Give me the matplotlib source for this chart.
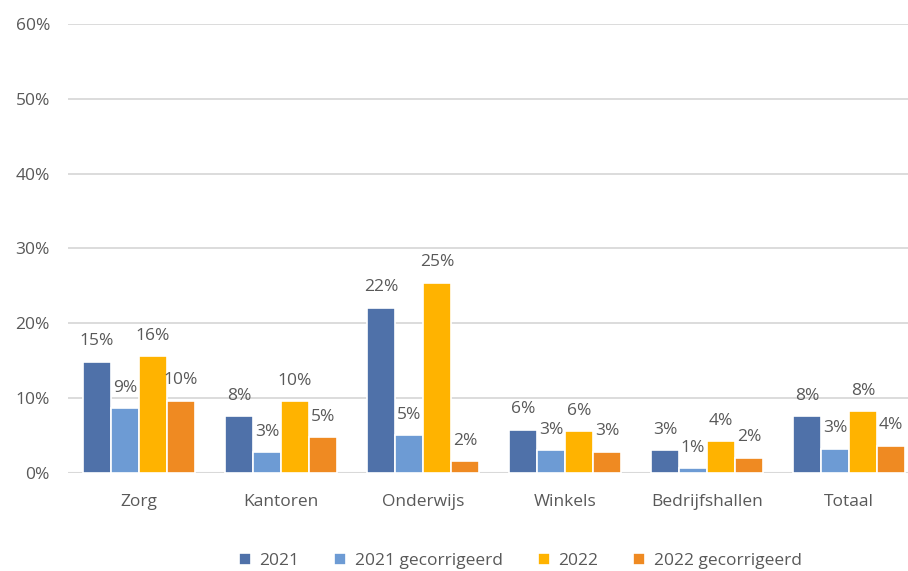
import numpy as np
import matplotlib
matplotlib.use('Agg')
import matplotlib.pyplot as plt
from matplotlib.ticker import FuncFormatter

categories = ['Zorg', 'Kantoren', 'Onderwijs', 'Winkels', 'Bedrijfshallen', 'Totaal']
series_names = ['2021', '2021 gecorrigeerd', '2022', '2022 gecorrigeerd']

# values in percent
v2021 = [14.9, 7.6, 22.1, 5.8, 3.1, 7.6]
v2021_gec = [8.7, 2.8, 5.1, 3.1, 0.7, 3.3]
v2022 = [15.6, 9.6, 25.4, 5.6, 4.3, 8.3]
v2022_gec = [9.7, 4.8, 1.6, 2.9, 2.1, 3.7]

colors = ['#4F71A9', '#6D9BD4', '#FFB300', '#EF8A22']
text_color = '#595959'
fs = 12.5

plt.rcParams['font.family'] = ['Open Sans', 'DejaVu Sans']

fig = plt.figure(figsize=(9.08, 5.71), dpi=100)
ax = fig.add_axes([68 / 908, (571 - 473.3) / 571, 1 - 68 / 908, (473.3 - 23.7) / 571])

x = np.arange(len(categories))
width = 0.197
all_series = [v2021, v2021_gec, v2022, v2022_gec]
for i, (name, vals) in enumerate(zip(series_names, all_series)):
    offset = (i - 1.5) * width
    bars = ax.bar(x + offset, vals, width, color=colors[i], edgecolor='white',
                  linewidth=1.2, label=name, zorder=3)
    ax.bar_label(bars, labels=[f'{v:.0f}%' for v in vals], padding=9,
                 color=text_color, fontsize=fs)

ax.set_ylim(0, 60)
ax.set_yticks(range(0, 61, 10))
ax.yaxis.set_major_formatter(FuncFormatter(lambda v, p: f'{v:.0f}%'))
ax.set_xlim(-0.5, 5.415)
ax.set_xticks(x)
ax.set_xticklabels(categories)

ax.grid(axis='y', color='#D9D9D9', linewidth=1.3, zorder=0)
for s in ['top', 'right', 'left', 'bottom']:
    ax.spines[s].set_visible(False)
ax.axhline(0, color='#D9D9D9', linewidth=1.5, zorder=2)
ax.tick_params(axis='both', length=0, colors=text_color, labelsize=fs)
ax.tick_params(axis='y', pad=13)
ax.tick_params(axis='x', pad=15)

fig.legend(loc='center', bbox_to_anchor=(0.573, 10 / 571), ncol=4, frameon=False,
           handlelength=0.7, handleheight=0.7, handletextpad=0.5, columnspacing=2.0,
           fontsize=fs, labelcolor=text_color)

fig.savefig('out.png', dpi=100)
